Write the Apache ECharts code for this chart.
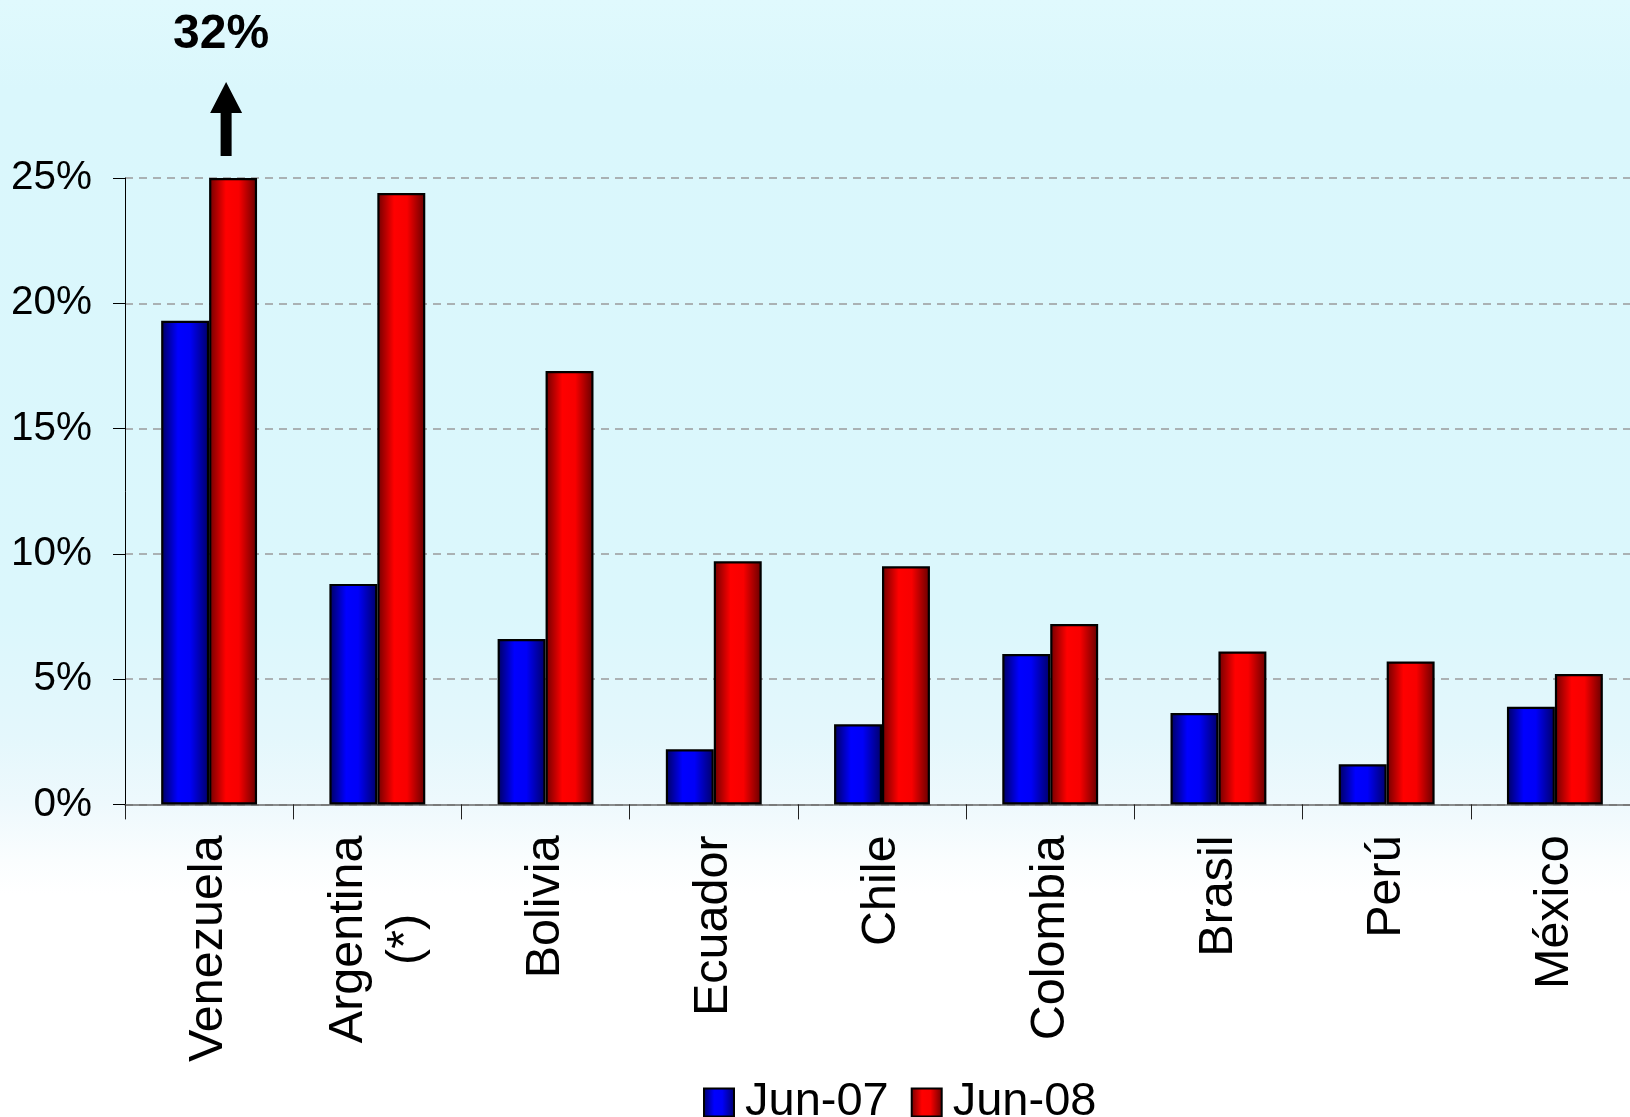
<!DOCTYPE html>
<html>
<head>
<meta charset="utf-8">
<script src="https://cdn.jsdelivr.net/npm/echarts@6/dist/echarts.min.js"></script>
<style>
  html, body { margin: 0; padding: 0; background: #fff; }
  #chart { width: 1630px; height: 1117px; }
</style>
</head>
<body>
<div id="chart"></div>
<script>
// ---- data ----
const categories = ['Venezuela', 'Argentina\n(*)', 'Bolivia', 'Ecuador', 'Chile', 'Colombia', 'Brasil', 'Perú', 'México'];
const jun07 = [19.3, 8.8, 6.6, 2.2, 3.2, 6.0, 3.65, 1.6, 3.9];
// Venezuela Jun-08 is drawn clipped at the top of the scale (real value 32%)
const jun08 = [25, 24.4, 17.3, 9.7, 9.5, 7.2, 6.1, 5.7, 5.2];
const seriesNames = ['Jun-07', 'Jun-08'];
const clippedNote = '32%';
const yMin = 0, yMax = 25, yStep = 5;

const FONT = '"Liberation Sans", Arial, sans-serif';

function textWidth(t, size) {
  const c = document.createElement('canvas').getContext('2d');
  c.font = size + 'px "Liberation Sans"';
  return Math.ceil(c.measureText(t).width);
}

const blueGrad = new echarts.graphic.LinearGradient(0, 0, 1, 0, [
  { offset: 0, color: '#00005e' },
  { offset: 0.35, color: '#0000ff' },
  { offset: 0.6, color: '#0000f8' },
  { offset: 1, color: '#000066' }
]);
const redGrad = new echarts.graphic.LinearGradient(0, 0, 1, 0, [
  { offset: 0, color: '#6e0000' },
  { offset: 0.35, color: '#ff0000' },
  { offset: 0.62, color: '#f80000' },
  { offset: 1, color: '#640000' }
]);

const chart = echarts.init(document.getElementById('chart'), null, { renderer: 'canvas' });

const option = {
  animation: false,
  backgroundColor: new echarts.graphic.LinearGradient(0, 0, 0, 1, [
    { offset: 0, color: '#e0f9fd' },
    { offset: 0.08, color: '#daf7fc' },
    { offset: 0.55, color: '#dbf7fc' },
    { offset: 0.66, color: '#e4f7fc' },
    { offset: 0.72, color: '#eef9fd' },
    { offset: 0.77, color: '#fafdfe' },
    { offset: 0.8, color: '#ffffff' },
    { offset: 1, color: '#ffffff' }
  ]),
  grid: { left: 125, width: 1514, top: 178, bottom: 312.6, containLabel: false, outerBoundsMode: 'none' },
  legend: {
    data: seriesNames,
    left: 698,
    top: 1074,
    itemWidth: 30,
    itemHeight: 28,
    itemGap: 22,
    icon: 'rect',
    textStyle: { fontSize: 47, color: '#000', fontFamily: FONT, padding: [0, 0, 0, 6] }
  },
  xAxis: {
    type: 'category',
    data: categories,
    boundaryGap: true,
    axisLine: { lineStyle: { color: '#6a6a6a', width: 1.5 } },
    axisTick: { show: true, length: 15, lineStyle: { color: '#222', width: 1 } },
    axisLabel: {
      rotate: 90,
      margin: 31,
      interval: 0,
      color: '#000',
      fontSize: 48.5,
      fontFamily: FONT,
      formatter: function (v) {
        const lines = v.split('\n');
        if (lines.length === 1) return v;
        return lines.map(l => '{c|' + l + '}').join('\n');
      },
      rich: {
        c: {
          width: textWidth('Argentina', 48.5),
          align: 'center',
          fontSize: 48.5,
          lineHeight: 58,
          fontFamily: FONT,
          color: '#000'
        }
      }
    }
  },
  yAxis: {
    type: 'value',
    min: yMin,
    max: yMax,
    interval: yStep,
    axisLine: { show: true, lineStyle: { color: '#000', width: 1 } },
    axisTick: { show: true, length: 12, lineStyle: { color: '#000', width: 1 } },
    axisLabel: {
      margin: 33,
      color: '#000',
      fontSize: 40.5,
      fontFamily: FONT,
      formatter: '{value}%'
    },
    splitLine: { show: true, lineStyle: { color: '#9a9a9a', width: 1.5, type: [8, 6] } }
  },
  series: [
    {
      name: seriesNames[0],
      type: 'bar',
      data: jun07,
      barGap: '0%',
      barCategoryGap: '43%',
      itemStyle: { color: blueGrad, borderColor: '#000', borderWidth: 2.2 }
    },
    {
      name: seriesNames[1],
      type: 'bar',
      data: jun08,
      barGap: '0%',
      barCategoryGap: '43%',
      itemStyle: { color: redGrad, borderColor: '#000', borderWidth: 2.2 }
    }
  ]
};

chart.setOption(option);

// annotation: arrow + real value above the clipped Venezuela bar
const anchorPt = chart.convertToPixel({ xAxisIndex: 0, yAxisIndex: 0 }, [categories[0], yMax]);
const arrowX = anchorPt[0] + 17, barTopY = anchorPt[1];
chart.setOption({
  graphic: [
    {
      type: 'polygon',
      shape: {
        points: [
          [arrowX - 5.5, barTopY - 22], [arrowX + 5.5, barTopY - 22], [arrowX + 5.5, barTopY - 65],
          [arrowX + 16, barTopY - 65], [arrowX, barTopY - 96], [arrowX - 16, barTopY - 65], [arrowX - 5.5, barTopY - 65]
        ]
      },
      style: { fill: '#000' },
      z: 100
    },
    {
      type: 'text',
      x: anchorPt[0] + 12,
      y: barTopY - 143,
      style: {
        text: clippedNote,
        font: 'bold 48px "Liberation Sans", Arial, sans-serif',
        fill: '#000',
        align: 'center',
        verticalAlign: 'middle'
      },
      z: 100
    }
  ]
});
</script>
</body>
</html>
